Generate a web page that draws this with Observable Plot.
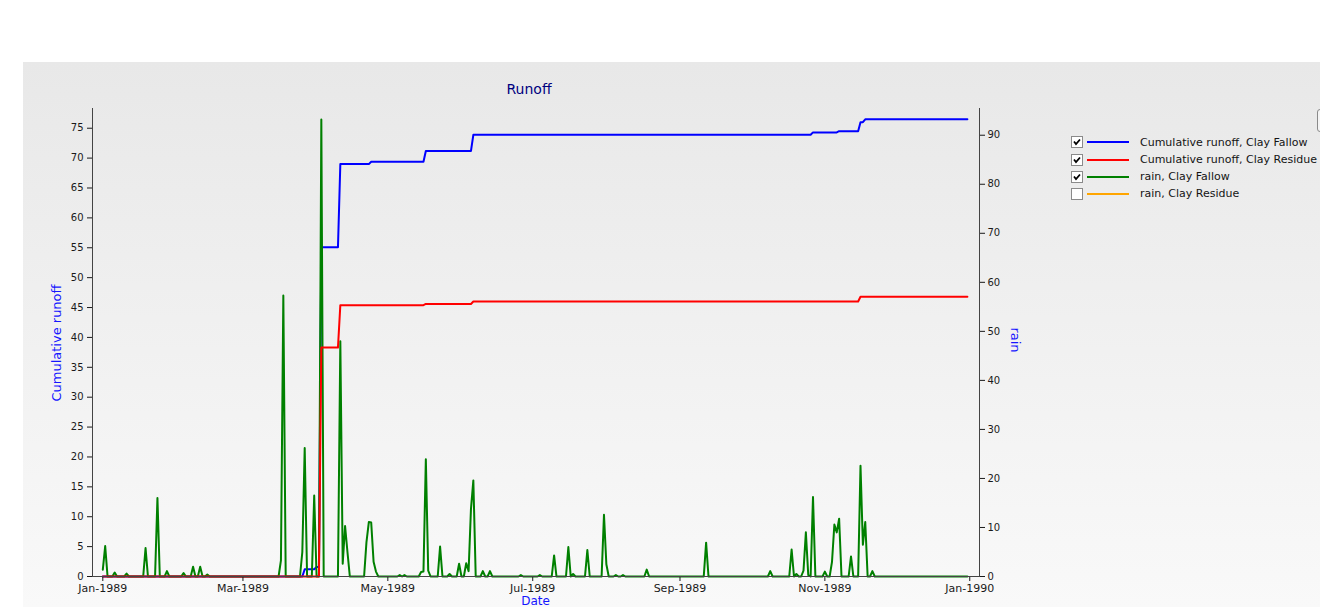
<!DOCTYPE html>
<html>
<head>
<meta charset="utf-8">
<script src="https://cdn.jsdelivr.net/npm/d3@7"></script>
<script src="https://cdn.jsdelivr.net/npm/@observablehq/plot@0.6"></script>
<style>
  body { margin: 0; width: 1320px; height: 607px; overflow: hidden; background: #fff; position: relative; font-family: "DejaVu Sans", sans-serif; }
  #panel { position: absolute; left: 23px; top: 62px; width: 1297px; height: 545px; background: linear-gradient(#e8e8e8, #f9f9f9); }
  #chart { position: absolute; left: 0; top: 0; }
  .lbl { position: absolute; white-space: nowrap; color: #1515ff; font-size: 13px; line-height: 15px; }
  #title { position: absolute; left: 454px; width: 150px; top: 81px; text-align: center; color: #000080; font-size: 14px; line-height: 17px; }
  .row { position: absolute; left: 1071px; height: 16px; display: flex; align-items: center; font-size: 11px; color: #141414; white-space: nowrap; }
  .cb { width: 10px; height: 10px; border: 1px solid #8a8a8a; background: #fff; position: relative; }
  .cb svg { position: absolute; left: 0; top: 0; }
  .sw { width: 42px; height: 2px; margin-left: 4px; margin-right: 11px; }
  #btn { position: absolute; left: 1317px; top: 109px; width: 10px; height: 21px; border: 1px solid #8a8a8a; border-radius: 3px; background: #f4f4f4; }
</style>
</head>
<body>
<div id="panel"></div>
<div id="chart"></div>
<div id="title">Runoff</div>
<div class="lbl" id="ylab" style="left:55.5px; top:343px; transform: translate(-50%,-50%) rotate(-90deg);">Cumulative runoff</div>
<div class="lbl" id="y2lab" style="left:1015px; top:340px; transform: translate(-50%,-50%) rotate(90deg);">rain</div>
<div class="lbl" id="xlab" style="left:535.5px; top:596px; font-size:12px; line-height:11px; transform: translateX(-50%);">Date</div>
<div id="btn"></div>
<div id="legend"></div>
<script>
// ---- data (day-of-year offsets from 1 Jan 1989) ----
const rainDayOfYear = [0, 1, 5, 10, 18, 23, 27, 34, 38, 41, 44,
  75, 76, 84, 85, 89, 92, 100, 101, 102, 103,
  111, 112, 113, 114, 115, 125, 127, 134, 135, 136, 137, 142, 146,
  150, 153, 154, 155, 156, 160, 163, 176, 184, 190, 196, 198,
  204, 211, 212, 216, 219, 229, 254, 281, 290, 292, 295, 296, 297, 299,
  304, 307, 308, 309, 310, 315, 319, 320, 321, 324];
const rainClayFallow = [1.4, 6.2, 0.8, 0.6, 5.8, 16.0, 1.1, 0.7, 2.0, 2.0, 0.4,
  3.3, 57.3, 5.0, 26.2, 16.5, 93.2, 48.0, 2.6, 10.3, 5.0,
  7.0, 11.1, 11.0, 3.0, 1.0, 0.3, 0.3, 0.9, 1.0, 23.9, 1.2, 6.1, 0.5,
  2.6, 2.7, 1.1, 13.8, 19.6, 1.1, 1.1, 0.3, 0.3, 4.3, 6.0, 0.5,
  5.4, 12.6, 2.5, 0.3, 0.3, 1.4, 6.9, 1.1, 5.5, 0.5, 1.2, 9.0, 0.3, 16.2,
  1.0, 3.0, 10.6, 9.0, 11.8, 4.1, 22.6, 6.5, 11.1, 1.1];

// cumulative runoff: days on which the running total changes, and the new total
const fallowChangeDays = [0, 85, 90, 92, 100, 113, 136, 156, 299, 310, 319, 321];
const fallowCumRunoff  = [0, 1.2, 1.6, 55.1, 69.0, 69.4, 71.2, 73.9, 74.3, 74.5, 76.0, 76.5];
const residueChangeDays = [0, 92, 100, 136, 156, 319];
const residueCumRunoff  = [0, 38.3, 45.4, 45.6, 46.0, 46.8];

const leftTicks = [0, 5, 10, 15, 20, 25, 30, 35, 40, 45, 50, 55, 60, 65, 70, 75];
const rightTicks = [0, 10, 20, 30, 40, 50, 60, 70, 80, 90];
const xTickLabels = ["1989-01-01", "1989-03-01", "1989-05-01", "1989-07-01", "1989-09-01", "1989-11-01", "1990-01-01"];

const seriesNames = ["Cumulative runoff, Clay Fallow", "Cumulative runoff, Clay Residue", "rain, Clay Fallow", "rain, Clay Residue"];
const seriesColors = ["#0000ff", "#ff0000", "#008000", "#ffa500"];
const seriesChecked = [true, true, true, false];

// ---- build daily table ----
const DAY = 864e5;
const start = Date.UTC(1989, 0, 1);
const rainMap = new Map(rainDayOfYear.map((d, i) => [d, rainClayFallow[i]]));
function stepValue(days, vals, d) {
  let v = vals[0];
  for (let i = 0; i < days.length; i++) if (days[i] <= d) v = vals[i];
  return v;
}
const daily = d3.range(0, 365).map(d => ({
  date: new Date(start + d * DAY),
  rain: rainMap.get(d) ?? 0,
  fallow: stepValue(fallowChangeDays, fallowCumRunoff, d),
  residue: stepValue(residueChangeDays, residueCumRunoff, d)
}));

const Y_LEFT_MAX = 78.3, Y_RIGHT_MAX = 95.45;
const k = Y_LEFT_MAX / Y_RIGHT_MAX;
const xDomain = [new Date(start - 4.34 * DAY), new Date(start + 369.1 * DAY)];
const xTicks = xTickLabels.map(s => new Date(s + "T00:00:00Z"));
const fmt = d3.utcFormat("%b-%Y");

const chart = Plot.plot({
  width: 1320,
  height: 607,
  marginLeft: 92,
  marginRight: 341,
  marginTop: 108,
  marginBottom: 31,
  style: { background: "transparent", fontFamily: "DejaVu Sans, sans-serif", fontSize: "10px", color: "#1a1a1a" },
  x: { type: "utc", domain: xDomain },
  y: { domain: [0, Y_LEFT_MAX] },
  marks: [
    Plot.line(daily, { x: "date", y: "fallow", stroke: seriesColors[0], strokeWidth: 2 }),
    Plot.line(daily, { x: "date", y: d => d.rain * k, stroke: seriesColors[2], strokeWidth: 2 }),
    Plot.line(daily, { x: "date", y: "residue", stroke: seriesColors[1], strokeWidth: 2 }),
    Plot.axisY(leftTicks, { anchor: "left", tickSize: 5, tickPadding: 4, label: null, fontSize: 10 }),
    Plot.axisY(rightTicks, { anchor: "right", y: d => d * k, tickFormat: d => String(d), tickSize: 5, tickPadding: 3, label: null, fontSize: 10 }),
    Plot.axisX(xTicks, { anchor: "bottom", tickFormat: fmt, tickSize: 5, tickPadding: 3, label: null, fontSize: 11 }),
    Plot.frame({ anchor: "left", stroke: "#444" }),
    Plot.frame({ anchor: "right", stroke: "#444" }),
    Plot.frame({ anchor: "bottom", stroke: "#444" })
  ]
});
document.getElementById("chart").appendChild(chart);

// ---- legend ----
const legend = document.getElementById("legend");
const rowCenters = [142.3, 159.5, 176.5, 193.5];
seriesNames.forEach((name, i) => {
  const row = document.createElement("div");
  row.className = "row";
  row.style.top = (rowCenters[i] - 8) + "px";
  const cb = document.createElement("div");
  cb.className = "cb";
  if (seriesChecked[i]) {
    cb.innerHTML = '<svg width="10" height="10" viewBox="0 0 10 10"><path d="M2 4.5 L4 7 L8 2.5" fill="none" stroke="#000" stroke-width="1.8"/></svg>';
  }
  const sw = document.createElement("div");
  sw.className = "sw";
  sw.style.background = seriesColors[i];
  const t = document.createElement("span");
  t.textContent = name;
  row.append(cb, sw, t);
  legend.appendChild(row);
});
</script>
</body>
</html>
